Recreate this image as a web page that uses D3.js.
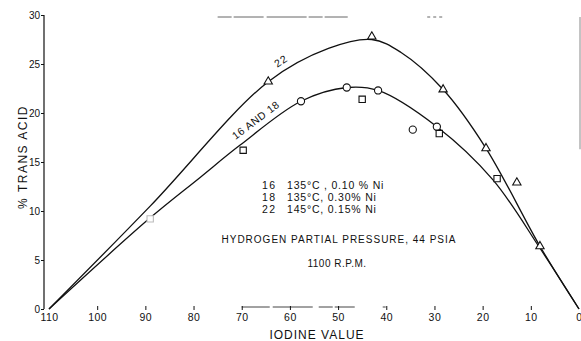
<!DOCTYPE html>
<html>
<head>
<meta charset="utf-8">
<script src="https://cdn.jsdelivr.net/npm/d3@7"></script>
<style>
  html, body { margin: 0; padding: 0; background: #fff; }
  svg { display: block; }
  text { font-family: "Liberation Sans", "DejaVu Sans", sans-serif; fill: #111; }
</style>
</head>
<body>
<svg id="chart" width="581" height="341"></svg>
<script>
// Iodine value ticks and % trans acid ticks
const xTicks = [110, 100, 90, 80, 70, 60, 50, 40, 30, 20, 10, 0];
const yTicks = [0, 5, 10, 15, 20, 25, 30];

// Fitted curve for run 22 (iodine value, % trans)
const curve22X = [110, 89, 64.5, 52, 43, 37, 28.2, 19.3, 8.1, 0];
const curve22Y = [0, 10.5, 23.2, 26.6, 27.5, 26.2, 22.4, 16.4, 6.4, 0];

// Fitted curve for runs 16 and 18
const curve1618X = [110, 89, 78.7, 70.4, 57.7, 48.2, 41.7, 29.5, 17.9, 8.1, 0];
const curve1618Y = [0, 9.3, 13.4, 16.7, 21.2, 22.6, 22.3, 18.6, 13.2, 6.2, 0];

// Measured points, run 22 (triangles)
const run22X = [64.5, 43, 28.2, 19.3, 12.9, 8.1];
const run22Y = [23.2, 27.8, 22.4, 16.4, 12.9, 6.4];

// Measured points, run 16 (circles)
const run16X = [57.7, 48.2, 41.7, 34.5, 29.5];
const run16Y = [21.2, 22.6, 22.3, 18.3, 18.6];

// Measured points, run 18 (squares)
const run18X = [89, 69.7, 45, 29, 17];
const run18Y = [9.2, 16.2, 21.4, 17.9, 13.3];

// Run conditions
const legendRuns = ["16", "18", "22"];
const legendConds = ["135°C , 0.10 % Ni", "135°C, 0.30% Ni", "145°C, 0.15% Ni"];

const svg = d3.select("#chart");
const x = d3.scaleLinear().domain([110, 0]).range([49, 579]);
const y = d3.scaleLinear().domain([0, 30]).range([309, 15]);

const ink = "#111";

// Remnants of the plot frame
const frame = svg.append("g").attr("stroke", "#666").attr("fill", "none").attr("stroke-width", 1);
frame.append("line").attr("x1", x(75)).attr("x2", x(48)).attr("y1", y(30) + 2).attr("y2", y(30) + 2)
  .attr("stroke-dasharray", "14,2,30,3,40,2");
frame.append("line").attr("x1", x(31.5)).attr("x2", x(28.2)).attr("y1", y(30) + 2).attr("y2", y(30) + 2)
  .attr("stroke-dasharray", "3,3");
frame.append("line").attr("x1", 580).attr("x2", 580).attr("y1", y(30) + 2).attr("y2", y(16.3))
  .attr("stroke", "#888");
frame.append("line").attr("x1", x(70)).attr("x2", x(36)).attr("y1", y(0) - 2).attr("y2", y(0) - 2)
  .attr("stroke", "#444").attr("stroke-dasharray", "28,3,40,6,14,2,20");

// Y axis
const yAxis = d3.axisLeft(y).tickValues(yTicks).tickSize(3).tickPadding(1);
const gy = svg.append("g").attr("transform", "translate(44,0)").call(yAxis);
gy.select(".domain").attr("stroke", ink).attr("stroke-width", 1.2).attr("d", `M0,${y(30)}V${y(0)}`);
gy.selectAll(".tick line").attr("stroke", ink);
gy.selectAll(".tick text").attr("font-size", 10).attr("fill", ink).attr("dy", "0.32em");

// X axis: tick marks only, no baseline
const xAxis = d3.axisBottom(x).tickValues(xTicks).tickSize(4).tickPadding(4);
const gx = svg.append("g").attr("transform", `translate(0,${y(0) - 3})`).call(xAxis);
gx.select(".domain").remove();
gx.selectAll(".tick line").attr("stroke", ink);
gx.selectAll(".tick").filter(d => d === 110 || d === 0).select("line").remove();
gx.selectAll(".tick text").attr("font-size", 10.5).attr("fill", ink).attr("letter-spacing", "0.5px");
gx.selectAll(".tick").filter(d => d === 0).select("text").attr("text-anchor", "end").attr("dx", "3px");

// Axis titles
svg.append("text").attr("x", 317).attr("y", 339).attr("text-anchor", "middle")
  .attr("font-size", 12).attr("letter-spacing", "1px").text("IODINE VALUE");
svg.append("text").attr("transform", "translate(27,157) rotate(-90)").attr("text-anchor", "middle")
  .attr("font-size", 12).attr("letter-spacing", "1.5px").text("% TRANS ACID");

// Curves
const line = d3.line().x(d => x(d[0])).y(d => y(d[1])).curve(d3.curveCatmullRom.alpha(0.5));
const c22 = curve22X.map((v, i) => [v, curve22Y[i]]);
const c1618 = curve1618X.map((v, i) => [v, curve1618Y[i]]);
svg.append("path").datum(c22).attr("d", line).attr("fill", "none").attr("stroke", ink).attr("stroke-width", 1.3);
svg.append("path").datum(c1618).attr("d", line).attr("fill", "none").attr("stroke", ink).attr("stroke-width", 1.3);

// Markers
const marks = svg.append("g").attr("fill", "#fff").attr("stroke", ink).attr("stroke-width", 1.1);
const tri = d3.symbol().type(d3.symbolTriangle).size(30);
const sq = d3.symbol().type(d3.symbolSquare).size(40);
marks.selectAll(".tri").data(run22X.map((v, i) => [v, run22Y[i]])).join("path")
  .attr("d", tri).attr("transform", d => `translate(${x(d[0])},${y(d[1])})`);
marks.selectAll(".circ").data(run16X.map((v, i) => [v, run16Y[i]])).join("circle")
  .attr("cx", d => x(d[0])).attr("cy", d => y(d[1])).attr("r", 3.6);
marks.selectAll(".sq").data(run18X.map((v, i) => [v, run18Y[i]])).join("path")
  .attr("d", sq).attr("transform", d => `translate(${x(d[0])},${y(d[1])})`)
  .attr("stroke", (d, i) => i === 0 ? "#bbb" : ink);

// Curve labels
svg.append("text").attr("transform", "translate(283,64) rotate(-33)").attr("text-anchor", "middle")
  .attr("font-size", 10.5).attr("letter-spacing", "1px").text("22");
svg.append("text").attr("transform", "translate(258,123) rotate(-37)").attr("text-anchor", "middle")
  .attr("font-size", 10.5).attr("letter-spacing", "0.6px").text("16 AND 18");

// Run conditions block
const leg = svg.append("g").attr("font-size", 10.5);
legendRuns.forEach((r, i) => {
  leg.append("text").attr("x", 262).attr("y", 189 + i * 12).attr("letter-spacing", "1.5px").text(r);
  leg.append("text").attr("x", 287).attr("y", 189 + i * 12).attr("letter-spacing", "0.8px").text(legendConds[i]);
});

svg.append("text").attr("x", 339).attr("y", 243).attr("text-anchor", "middle")
  .attr("font-size", 10).attr("letter-spacing", "1px").text("HYDROGEN PARTIAL PRESSURE, 44 PSIA");
svg.append("text").attr("x", 337).attr("y", 267).attr("text-anchor", "middle")
  .attr("font-size", 10).attr("letter-spacing", "0.5px").text("1100 R.P.M.");
</script>
</body>
</html>
